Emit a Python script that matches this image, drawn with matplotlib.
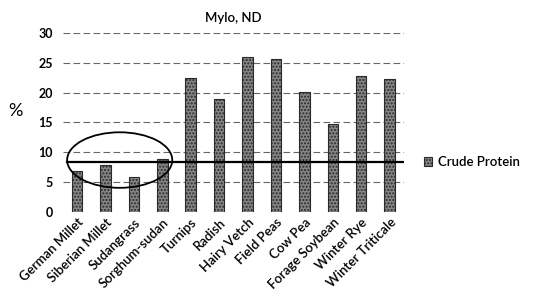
import matplotlib.pyplot as plt
from matplotlib.patches import Ellipse

plt.rcParams['font.family'] = ['Lato', 'DejaVu Sans']

crops = ['German Millet', 'Siberian Millet', 'Sudangrass', 'Sorghum-sudan', 'Turnips',
         'Radish', 'Hairy Vetch', 'Field Peas', 'Cow Pea', 'Forage Soybean',
         'Winter Rye', 'Winter Triticale']
crude_protein = [6.8, 7.8, 5.8, 8.8, 22.4, 19.0, 25.9, 25.7, 20.1, 14.8, 22.8, 22.3]
ref_level = 8.3
yticks = [0, 5, 10, 15, 20, 25, 30]

fig = plt.figure(figsize=(5.42, 2.99), dpi=100)
ax = fig.add_axes([0.116, 0.291, 0.629, 0.599])

x = range(len(crops))
ax.bar(x, crude_protein, width=0.37, color='#858585', edgecolor='#2a2a2a',
       hatch='.....', linewidth=0.8, label='Crude Protein', zorder=3)

# dashed gridlines like the scanned original
for t in yticks[1:]:
    ax.axhline(t, color='#666666', linestyle=(0, (6, 3)), linewidth=0.8, zorder=1)

# reference line and circled low-protein group
ax.plot([-0.35, 11.5], [ref_level, ref_level], color='black', linewidth=1.6, zorder=4)
ax.add_patch(Ellipse((1.5, 8.7), 3.7, 9.3, fill=False, edgecolor='black',
                     linewidth=1.3, zorder=5))

ax.set_xlim(-0.5, 11.5)
ax.set_ylim(0, 30)
ax.set_yticks(yticks)
ax.set_yticklabels([str(t) for t in yticks], fontsize=9, fontweight='bold')
ax.set_xticks(list(x))
ax.set_xticklabels(crops, rotation=45, ha='right', rotation_mode='anchor',
                   fontsize=9.5, fontweight='semibold')
ax.tick_params(length=0, pad=7)
ax.tick_params(axis='x', pad=3)
for s in ax.spines.values():
    s.set_visible(False)

ax.set_title('Mylo, ND', fontsize=9.5, fontweight='semibold', pad=8)
fig.text(0.028, 0.63, '%', fontsize=13, ha='center', va='center')

fig.legend(loc='center left', bbox_to_anchor=(0.76, 0.458), frameon=False,
           prop={'size': 9.5, 'weight': 'semibold'},
           handlelength=0.6, handleheight=0.6, handletextpad=0.5)

fig.savefig('out.png', dpi=100)
